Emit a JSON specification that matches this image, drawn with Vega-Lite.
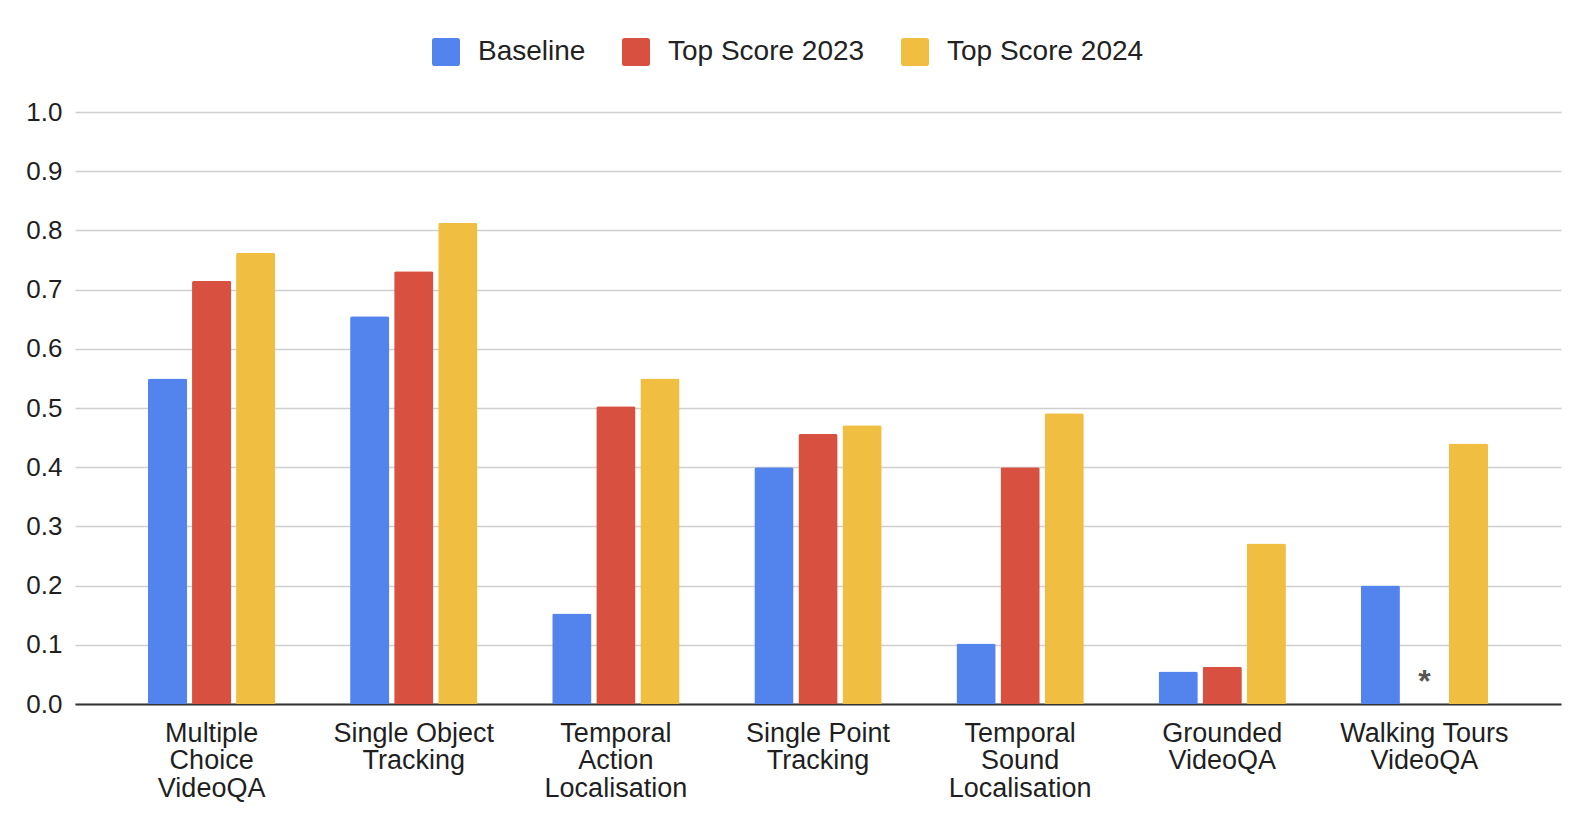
{
  "$schema": "https://vega.github.io/schema/vega-lite/v6.json",
  "autosize": "none",
  "width": 1486,
  "height": 592,
  "padding": {"left": 75, "top": 112, "right": 13, "bottom": 112},
  "background": "white",
  "config": {"view": {"stroke": null}},
  "data": {
    "values": [
      {"task": "Multiple Choice VideoQA", "series": "Baseline", "score": 0.55},
      {"task": "Multiple Choice VideoQA", "series": "Top Score 2023", "score": 0.715},
      {"task": "Multiple Choice VideoQA", "series": "Top Score 2024", "score": 0.762},
      {"task": "Single Object Tracking", "series": "Baseline", "score": 0.655},
      {"task": "Single Object Tracking", "series": "Top Score 2023", "score": 0.731},
      {"task": "Single Object Tracking", "series": "Top Score 2024", "score": 0.813},
      {"task": "Temporal Action Localisation", "series": "Baseline", "score": 0.153},
      {"task": "Temporal Action Localisation", "series": "Top Score 2023", "score": 0.503},
      {"task": "Temporal Action Localisation", "series": "Top Score 2024", "score": 0.55},
      {"task": "Single Point Tracking", "series": "Baseline", "score": 0.4},
      {"task": "Single Point Tracking", "series": "Top Score 2023", "score": 0.456},
      {"task": "Single Point Tracking", "series": "Top Score 2024", "score": 0.471},
      {"task": "Temporal Sound Localisation", "series": "Baseline", "score": 0.102},
      {"task": "Temporal Sound Localisation", "series": "Top Score 2023", "score": 0.4},
      {"task": "Temporal Sound Localisation", "series": "Top Score 2024", "score": 0.491},
      {"task": "Grounded VideoQA", "series": "Baseline", "score": 0.055},
      {"task": "Grounded VideoQA", "series": "Top Score 2023", "score": 0.063},
      {"task": "Grounded VideoQA", "series": "Top Score 2024", "score": 0.271},
      {"task": "Walking Tours VideoQA", "series": "Baseline", "score": 0.2},
      {"task": "Walking Tours VideoQA", "series": "Top Score 2023", "score": null, "note": "*"},
      {"task": "Walking Tours VideoQA", "series": "Top Score 2024", "score": 0.44}
    ]
  },
  "encoding": {
    "x": {
      "field": "task",
      "type": "nominal",
      "sort": null,
      "scale": {"paddingInner": 0.37, "paddingOuter": 0.361},
      "axis": {
        "title": null,
        "labelAngle": 0,
        "ticks": false,
        "domain": true,
        "domainColor": "#333333",
        "domainWidth": 2,
        "labelFont": "Liberation Sans",
        "labelFontSize": 27,
        "labelColor": "#1f1f1f",
        "labelPadding": 16,
        "labelLineHeight": 27.5,
        "labelBaseline": "top",
        "labelExpr": "datum.label == 'Multiple Choice VideoQA' ? ['Multiple','Choice','VideoQA'] : datum.label == 'Single Object Tracking' ? ['Single Object','Tracking'] : datum.label == 'Temporal Action Localisation' ? ['Temporal','Action','Localisation'] : datum.label == 'Single Point Tracking' ? ['Single Point','Tracking'] : datum.label == 'Temporal Sound Localisation' ? ['Temporal','Sound','Localisation'] : datum.label == 'Grounded VideoQA' ? ['Grounded','VideoQA'] : ['Walking Tours','VideoQA']"
      }
    },
    "xOffset": {
      "field": "series",
      "type": "nominal",
      "scale": {"paddingInner": 0.11}
    }
  },
  "layer": [
    {
      "mark": {"type": "bar", "cornerRadiusTopLeft": 2, "cornerRadiusTopRight": 2},
      "encoding": {
        "y": {
          "field": "score",
          "type": "quantitative",
          "scale": {"domain": [0, 1], "nice": false},
          "axis": {
            "title": null,
            "values": [0, 0.1, 0.2, 0.3, 0.4, 0.5, 0.6, 0.7, 0.8, 0.9, 1.0],
            "format": ".1f",
            "ticks": false,
            "domain": false,
            "grid": true,
            "gridColor": "#cfcfcf",
            "gridWidth": 1.5,
            "labelFont": "Liberation Sans",
            "labelFontSize": 26,
            "labelColor": "#1f1f1f",
            "labelPadding": 13
          }
        },
        "color": {
          "field": "series",
          "type": "nominal",
          "scale": {
            "domain": ["Baseline", "Top Score 2023", "Top Score 2024"],
            "range": ["#5383EC", "#D85140", "#F0BF42"]
          },
          "legend": {
            "title": null,
            "orient": "none",
            "direction": "horizontal",
            "legendX": 357,
            "legendY": -74,
            "padding": 0,
            "symbolType": "M-1,-0.8Q-1,-1,-0.8,-1L0.8,-1Q1,-1,1,-0.8L1,0.8Q1,1,0.8,1L-0.8,1Q-1,1,-1,0.8Z",
            "symbolSize": 784,
            "symbolStrokeWidth": 0,
            "labelFont": "Liberation Sans",
            "labelFontSize": 28,
            "labelColor": "#222222",
            "labelOffset": 18,
            "labelLimit": 400,
            "columnPadding": 36
          }
        }
      }
    },
    {
      "transform": [{"filter": "datum.note"}],
      "mark": {"type": "text", "font": "Liberation Sans", "fontSize": 32, "fontWeight": "bold", "color": "#555555", "baseline": "middle", "dy": -22},
      "encoding": {
        "y": {"datum": 0, "type": "quantitative"},
        "text": {"field": "note"}
      }
    }
  ]
}
